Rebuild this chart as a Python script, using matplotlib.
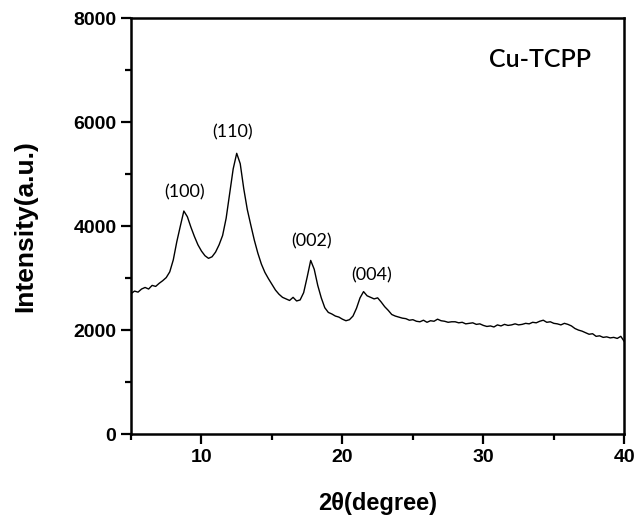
import matplotlib
matplotlib.use("Agg")
import matplotlib.pyplot as plt
from matplotlib.ticker import MultipleLocator

# XRD pattern of Cu-TCPP
two_theta = [5.00, 5.25, 5.50, 5.75, 6.00, 6.25, 6.50, 6.75, 7.00, 7.25,
             7.50, 7.75, 8.00, 8.25, 8.50, 8.75, 9.00, 9.25, 9.50, 9.75,
             10.00, 10.25, 10.50, 10.75, 11.00, 11.25, 11.50, 11.75, 12.00, 12.25,
             12.50, 12.75, 13.00, 13.25, 13.50, 13.75, 14.00, 14.25, 14.50, 14.75,
             15.00, 15.25, 15.50, 15.75, 16.00, 16.25, 16.50, 16.75, 17.00, 17.25,
             17.50, 17.75, 18.00, 18.25, 18.50, 18.75, 19.00, 19.25, 19.50, 19.75,
             20.00, 20.25, 20.50, 20.75, 21.00, 21.25, 21.50, 21.75, 22.00, 22.25,
             22.50, 22.75, 23.00, 23.25, 23.50, 23.75, 24.00, 24.25, 24.50, 24.75,
             25.00, 25.25, 25.50, 25.75, 26.00, 26.25, 26.50, 26.75, 27.00, 27.25,
             27.50, 27.75, 28.00, 28.25, 28.50, 28.75, 29.00, 29.25, 29.50, 29.75,
             30.00, 30.25, 30.50, 30.75, 31.00, 31.25, 31.50, 31.75, 32.00, 32.25,
             32.50, 32.75, 33.00, 33.25, 33.50, 33.75, 34.00, 34.25, 34.50, 34.75,
             35.00, 35.25, 35.50, 35.75, 36.00, 36.25, 36.50, 36.75, 37.00, 37.25,
             37.50, 37.75, 38.00, 38.25, 38.50, 38.75, 39.00, 39.25, 39.50, 39.75,
             40.00]
intensity = [2700, 2750, 2730, 2790, 2820, 2790, 2860, 2840, 2900, 2950,
             3010, 3120, 3350, 3700, 4000, 4290, 4180, 3980, 3800, 3640,
             3520, 3430, 3380, 3410, 3500, 3640, 3820, 4150, 4620, 5100,
             5400, 5200, 4720, 4320, 4020, 3730, 3480, 3270, 3110, 2990,
             2880, 2770, 2690, 2630, 2600, 2570, 2630, 2560, 2580, 2720,
             3020, 3340, 3170, 2860, 2620, 2430, 2340, 2310, 2270, 2250,
             2210, 2180, 2200, 2270, 2420, 2620, 2740, 2660, 2630, 2600,
             2620, 2540, 2450, 2380, 2300, 2270, 2250, 2230, 2220, 2190,
             2200, 2170, 2160, 2190, 2150, 2180, 2170, 2210, 2180, 2170,
             2150, 2160, 2160, 2140, 2150, 2120, 2130, 2140, 2110, 2120,
             2090, 2070, 2080, 2060, 2100, 2080, 2110, 2090, 2100, 2120,
             2100, 2110, 2130, 2120, 2150, 2140, 2170, 2190, 2150, 2160,
             2130, 2120, 2100, 2130, 2110, 2080, 2030, 2000, 1980, 1950,
             1920, 1930, 1880, 1890, 1860, 1870, 1850, 1860, 1840, 1880,
             1780]

# peak labels
peak_labels = ["(100)", "(110)", "(002)", "(004)"]
peak_x = [8.8, 12.2, 17.8, 22.1]
peak_y = [4500, 5650, 3550, 2900]

fig = plt.figure(figsize=(6.39, 5.18), dpi=100)
ax = fig.add_axes([0.205, 0.162, 0.772, 0.803])

ax.plot(two_theta, intensity, color="black", linewidth=1.0)

for lab, px, py in zip(peak_labels, peak_x, peak_y):
    ax.text(px, py, lab, fontsize=13, family="Lato", ha="center", va="bottom")

ax.text(0.83, 0.9, "Cu-TCPP", transform=ax.transAxes, fontsize=18,
        family="Lato", fontweight="semibold", ha="center", va="center")

ax.set_xlim(5, 40)
ax.set_ylim(0, 8000)
ax.xaxis.set_major_locator(MultipleLocator(10))
ax.xaxis.set_minor_locator(MultipleLocator(5))
ax.yaxis.set_major_locator(MultipleLocator(2000))
ax.yaxis.set_minor_locator(MultipleLocator(1000))
ax.tick_params(which="major", direction="out", length=7, width=1.6,
               labelsize=14, top=False, right=False)
ax.tick_params(which="minor", direction="out", length=4, width=1.6,
               top=False, right=False)
for lab in ax.get_xticklabels() + ax.get_yticklabels():
    lab.set_fontweight("bold")
    lab.set_family("Liberation Sans")

for sp in ax.spines.values():
    sp.set_linewidth(1.8)

ax.set_xlabel("2θ(degree)", fontsize=17, fontweight="bold",
              family="Liberation Sans", labelpad=19)
ax.set_ylabel("Intensity(a.u.)", fontsize=19, fontweight="bold",
              family="Liberation Sans", labelpad=26)

fig.savefig("out.png", dpi=100)
